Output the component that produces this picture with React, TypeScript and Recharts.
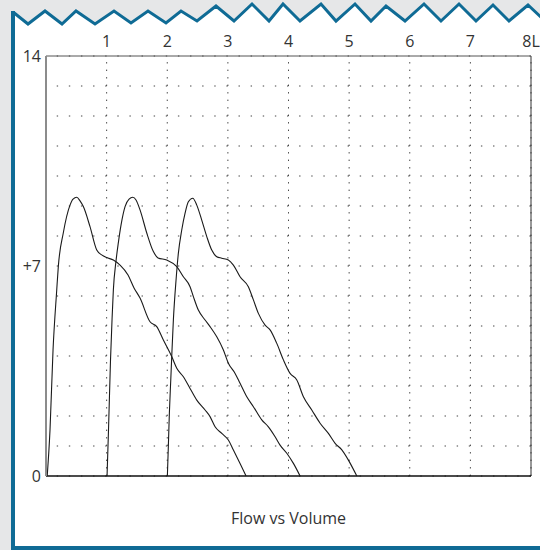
import { LineChart, Line, XAxis, YAxis, CartesianGrid, ReferenceLine } from 'recharts'

// volume in litres, flow in L/s
const volumeTicks = [0, 1, 2, 3, 4, 5, 6, 7, 8]
const flowTicks = [0, 1, 2, 3, 4, 5, 6, 7, 8, 9, 10, 11, 12, 13, 14]
const flowTickLabels: Record<number, string> = { 0: '0', 7: '+7', 14: '14' }

const trial1Volume = [0.02, 0.066, 0.116, 0.177, 0.203, 0.285, 0.396, 0.446, 0.507, 0.561, 0.616, 0.726, 0.837, 0.919, 1.002, 1.111, 1.221, 1.353, 1.452, 1.551, 1.716, 1.827, 1.936, 2.074, 2.157, 2.266, 2.376, 2.487, 2.624, 2.706, 2.789, 2.899, 3.008, 3.091, 3.201, 3.3]
const trial1Flow = [0, 1.53, 4.2, 6.2, 6.98, 8.1, 9.03, 9.23, 9.29, 9.17, 8.98, 8.31, 7.53, 7.37, 7.28, 7.2, 7.03, 6.7, 6.27, 5.93, 5.14, 4.98, 4.53, 3.98, 3.59, 3.31, 2.92, 2.53, 2.2, 1.98, 1.64, 1.42, 1.2, 0.87, 0.42, 0]

const trial2Volume = [1.007, 1.031, 1.064, 1.089, 1.111, 1.155, 1.193, 1.238, 1.304, 1.37, 1.431, 1.485, 1.551, 1.662, 1.771, 1.848, 1.992, 2.157, 2.266, 2.376, 2.431, 2.513, 2.624, 2.706, 2.817, 2.926, 3.008, 3.119, 3.201, 3.312, 3.421, 3.559, 3.668, 3.779, 3.861, 3.972, 4.081, 4.191]
const trial2Flow = [0, 1.53, 3.87, 5.2, 6.2, 7.17, 7.77, 8.37, 8.98, 9.23, 9.29, 9.2, 8.87, 8.1, 7.48, 7.27, 7.2, 6.98, 6.64, 6.31, 5.98, 5.53, 5.2, 4.98, 4.64, 4.2, 3.76, 3.42, 3.09, 2.64, 2.31, 1.87, 1.64, 1.31, 1.03, 0.76, 0.42, 0]

const trial3Volume = [2.002, 2.018, 2.035, 2.058, 2.074, 2.101, 2.145, 2.183, 2.239, 2.294, 2.348, 2.421, 2.487, 2.569, 2.652, 2.734, 2.817, 2.899, 3.008, 3.091, 3.201, 3.338, 3.421, 3.503, 3.614, 3.696, 3.807, 3.916, 4.026, 4.137, 4.246, 4.384, 4.521, 4.658, 4.769, 4.88, 4.988, 5.127]
const trial3Flow = [0, 0.98, 2.1, 3.2, 3.98, 5.2, 6.53, 7.42, 8.2, 8.76, 9.14, 9.26, 9.03, 8.53, 7.98, 7.53, 7.31, 7.26, 7.2, 7.03, 6.64, 6.31, 5.87, 5.42, 5.03, 4.87, 4.42, 3.87, 3.42, 3.2, 2.64, 2.2, 1.76, 1.42, 1.09, 0.87, 0.53, 0]

const toPoints = (vol: number[], flow: number[]) => vol.map((v, i) => ({ volume: v, flow: flow[i] }))

const trials = [
  toPoints(trial1Volume, trial1Flow),
  toPoints(trial2Volume, trial2Flow),
  toPoints(trial3Volume, trial3Flow),
]

// saw-tooth edge of the card
const zigzag = '13,12 28,24 45,11 62,24 76,11 95,24 114,11 131,23 148,11 166,23 181,11 197,21 216,6 234,21 252,4 269,21 283,4 300,21 321,4 336,21 355,4 371,21 386,6 405,21 424,4 441,21 459,4 476,21 493,5 509,21 528,5 545,21'

const blue = '#0f6b95'
const font = '"Open Sans", sans-serif'

export default function App() {
  return (
    <div style={{ position: 'absolute', left: 0, top: 0, width: 540, height: 550, background: '#e6e7e8', fontFamily: font, overflow: 'hidden' }}>
      <svg width={540} height={550} style={{ position: 'absolute', left: 0, top: 0 }}>
        <polygon points={`${zigzag} 545,550 13,550`} fill="#fff" />
        <polyline points={zigzag} fill="none" stroke={blue} strokeWidth={3} />
        <line x1={13} y1={11} x2={13} y2={550} stroke={blue} strokeWidth={4} />
        <line x1={11} y1={548} x2={540} y2={548} stroke={blue} strokeWidth={4} />
      </svg>

      <div style={{ position: 'absolute', left: 0, top: 0 }}>
        <LineChart width={540} height={550} margin={{ top: 26, right: 9, bottom: 74, left: 6 }}>
          <CartesianGrid vertical={false} stroke="#444" strokeDasharray="0 10.72 1.4 0" />
          <CartesianGrid horizontal={false} stroke="#444" strokeDasharray="0 6.1 1.4 0" />
          <XAxis
            dataKey="volume"
            type="number"
            orientation="top"
            height={30}
            domain={[0, 8]}
            ticks={volumeTicks}
            interval={0}
            tickFormatter={(v: number) => (v === 0 ? '' : v === 8 ? '8L' : String(v))}
            tickSize={0}
            tickMargin={9}
            tickLine={false}
            axisLine={{ stroke: '#555' }}
            tick={{ fill: '#333', fontSize: 16 }}
          />
          <YAxis
            dataKey="flow"
            type="number"
            width={40}
            domain={[0, 14]}
            ticks={flowTicks}
            interval={0}
            tickFormatter={(v: number) => flowTickLabels[v] ?? ''}
            tickSize={0}
            tickMargin={5}
            tickLine={false}
            axisLine={{ stroke: '#8c8c8c', strokeWidth: 2 }}
            tick={{ fill: '#333', fontSize: 16 }}
          />
          <ReferenceLine x={8} stroke="#333" />
          <ReferenceLine y={0} stroke="#111" strokeWidth={1.5} />
          {trials.map((pts, i) => (
            <Line
              key={i}
              data={pts}
              dataKey="flow"
              type="monotone"
              stroke="#1a1a1a"
              strokeWidth={1.1}
              dot={false}
              isAnimationActive={false}
            />
          ))}
        </LineChart>
      </div>

      <div style={{ position: 'absolute', left: 46, top: 508, width: 485, textAlign: 'center', fontSize: 16, lineHeight: '20px', color: '#333' }}>
        Flow vs Volume
      </div>
    </div>
  )
}
